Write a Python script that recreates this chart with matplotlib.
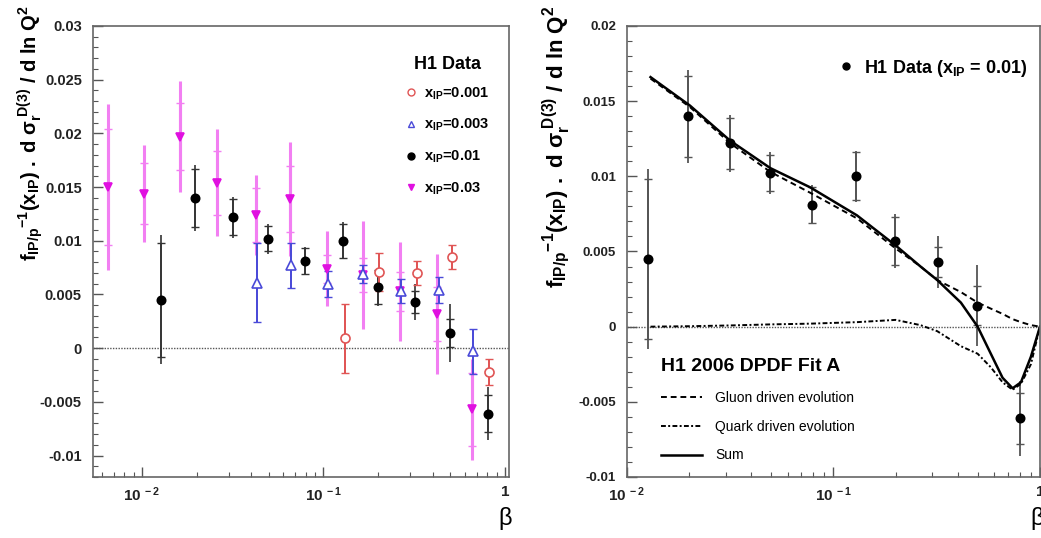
import matplotlib
matplotlib.use("Agg")
import matplotlib.pyplot as plt
from matplotlib.lines import Line2D
from matplotlib.ticker import MultipleLocator, FuncFormatter, LogLocator, NullFormatter, FixedLocator

plt.rcParams['font.family'] = ['Liberation Sans', 'DejaVu Sans']
plt.rcParams['mathtext.fontset'] = 'custom'
plt.rcParams['mathtext.rm'] = 'Liberation Sans'
plt.rcParams['mathtext.it'] = 'Liberation Sans:italic'
plt.rcParams['mathtext.bf'] = 'Liberation Sans:bold'
plt.rcParams['mathtext.default'] = 'bf'

# x_IP = 0.03 (magenta)
beta_03 = [0.0065, 0.0103, 0.0163, 0.026, 0.0425, 0.0653, 0.104, 0.1655, 0.264, 0.424, 0.66]
val_03 = [0.0150, 0.0144, 0.0197, 0.0154, 0.0124, 0.0139, 0.0074, 0.0068, 0.0053, 0.0032, -0.0057]
stat_03 = [0.0054, 0.0028, 0.0031, 0.0030, 0.0025, 0.0031, 0.0013, 0.0016, 0.0018, 0.0025, 0.0034]
tot_03 = [0.0077, 0.0045, 0.0052, 0.0050, 0.0037, 0.0053, 0.0035, 0.0050, 0.0046, 0.0056, 0.0047]

# x_IP = 0.01 (black), also shown on the right
beta_01 = [0.0127, 0.0197, 0.0316, 0.0493, 0.079, 0.1285, 0.199, 0.319, 0.498, 0.804]
val_01 = [0.0045, 0.0140, 0.0122, 0.0102, 0.0081, 0.0100, 0.0057, 0.0043, 0.0014, -0.0061]
stat_01 = [0.0053, 0.0027, 0.0017, 0.0012, 0.0012, 0.0016, 0.0016, 0.0010, 0.0013, 0.0017]
tot_01 = [0.0060, 0.0031, 0.0019, 0.0014, 0.0013, 0.0017, 0.0018, 0.0017, 0.0027, 0.0025]

# x_IP = 0.003 (blue)
beta_003 = [0.0428, 0.0662, 0.1054, 0.1655, 0.267, 0.434, 0.67]
val_003 = [0.0061, 0.0077, 0.0060, 0.0069, 0.0053, 0.0054, -0.0003]
err_003 = [0.0037, 0.0021, 0.0012, 0.0008, 0.0011, 0.0012, 0.0021]

# x_IP = 0.001 (red)
beta_001 = [0.131, 0.203, 0.326, 0.508, 0.82]
val_001 = [0.0009, 0.0071, 0.0070, 0.0085, -0.0022]
err_001 = [0.0032, 0.0018, 0.0011, 0.0011, 0.0012]

# H1 2006 DPDF Fit A curves
beta_fit = [0.013, 0.0202, 0.0316, 0.0494, 0.0773, 0.13, 0.2, 0.264, 0.318, 0.414, 0.499,
            0.578, 0.659, 0.737, 0.809, 0.904, 1.0]
fit_sum = [0.0166, 0.0147, 0.01237, 0.01055, 0.00926, 0.0074, 0.0054, 0.0040, 0.0031, 0.0016, 0.0,
           -0.0018, -0.0034, -0.0041, -0.0037, -0.0020, 0.0]
fit_gluon = [0.0165, 0.0146, 0.0122, 0.0103, 0.0089, 0.0072, 0.0052, 0.0040, 0.0031, 0.0023, 0.0016,
             0.0012, 0.00085, 0.0005, 0.0003, 0.0001, 0.0]
fit_quark = [0.0, 0.00003, 0.00008, 0.00015, 0.0002, 0.0003, 0.00045, 0.0001, -0.0003, -0.0013, -0.0018,
             -0.0027, -0.0037, -0.0042, -0.0038, -0.0025, 0.0]

ylab = r'$f_{IP/p}{}^{-1}(x_{IP})\ .\ d\ σ_r^{\ D(3)}\ /\ d\ ln\ Q^2$'
xticks = [0.01, 0.1, 1]
xticklabels = [r'$10^{\ -2}$', r'$10^{\ -1}$', r'$1$']

fig = plt.figure(figsize=(10.41, 5.38), dpi=100)
ax1 = fig.add_axes([0.0893, 0.1134, 0.3996, 0.8383])
ax2 = fig.add_axes([0.6023, 0.1134, 0.3967, 0.8383])


def style_axes(ax, ylim, xlim, ysize):
    ax.set_xscale('log')
    ax.set_xlim(*xlim)
    ax.set_ylim(*ylim)
    ax.xaxis.set_major_locator(FixedLocator(xticks))
    ax.set_xticklabels(xticklabels)
    ax.xaxis.set_minor_locator(LogLocator(base=10, subs=range(2, 10)))
    ax.xaxis.set_minor_formatter(NullFormatter())
    ax.yaxis.set_major_locator(MultipleLocator(0.005))
    ax.yaxis.set_minor_locator(MultipleLocator(0.001))
    ax.yaxis.set_major_formatter(FuncFormatter(lambda v, p: '%g' % round(v, 4)))
    ax.tick_params(which='both', direction='in', top=False, right=False, colors='#555555',
                   labelcolor='#222222')
    ax.tick_params(axis='y', labelsize=ysize, pad=8)
    ax.tick_params(axis='x', labelsize=11, pad=6)
    ax.tick_params(which='major', length=7, width=1)
    ax.tick_params(which='minor', length=3.5, width=0.8)
    for lab in ax.get_yticklabels():
        lab.set_fontweight('bold')
    for s in ax.spines.values():
        s.set_color('#666666')
        s.set_linewidth(1.2)
    ax.axhline(0, color='#555555', lw=1, ls=(0, (1, 1)), zorder=1)


def draw_points(ax, x, y, stat, tot, color, ecolor, lw, marker, mfc, ms):
    ax.errorbar(x, y, yerr=tot, fmt='none', ecolor=ecolor, elinewidth=lw, capsize=0, zorder=2)
    ax.errorbar(x, y, yerr=stat, fmt='none', ecolor=ecolor, elinewidth=lw, capsize=3,
                capthick=1, zorder=2)
    ax.plot(x, y, ls='none', marker=marker, mfc=mfc, mec=color, ms=ms, mew=1.2, zorder=3)


# left panel
style_axes(ax1, (-0.012, 0.03), (0.00537, 1.052), 10.5)
draw_points(ax1, beta_03, val_03, stat_03, tot_03, '#e010e0', '#f27ff2', 2.2, 'v', '#e010e0', 6)
draw_points(ax1, beta_01, val_01, stat_01, tot_01, 'black', '#333333', 1.2, 'o', 'black', 6)
draw_points(ax1, beta_003, val_003, err_003, err_003, '#4a4ad8', '#4a4ad8', 1.3, '^', 'white', 6.5)
draw_points(ax1, beta_001, val_001, err_001, err_001, '#e05555', '#e05555', 1.3, 'o', 'white', 6.5)

handles = [
    Line2D([], [], ls='none', marker='o', mfc='white', mec='#e05555', ms=5),
    Line2D([], [], ls='none', marker='^', mfc='white', mec='#4a4ad8', ms=5),
    Line2D([], [], ls='none', marker='o', mfc='black', mec='black', ms=5),
    Line2D([], [], ls='none', marker='v', mfc='#e010e0', mec='#e010e0', ms=5),
]
labels = [r'$x_{IP}$=0.001', r'$x_{IP}$=0.003', r'$x_{IP}$=0.01', r'$x_{IP}$=0.03']
leg = ax1.legend(handles, labels, loc='upper left', bbox_to_anchor=(0.733, 0.95), frameon=False,
                 handlelength=0.8, handletextpad=0.5, labelspacing=1.05, borderpad=0,
                 title='H1 Data', prop={'size': 10.5, 'weight': 'bold'},
                 title_fontproperties={'size': 13, 'weight': 'bold'})
leg._legend_box.sep = 9

# right panel
style_axes(ax2, (-0.01, 0.02), (0.01, 1.0), 9.5)
draw_points(ax2, beta_01, val_01, stat_01, tot_01, 'black', '#555555', 1.3, 'o', 'black', 6)
l_g, = ax2.plot(beta_fit, fit_gluon, color='black', lw=1.4, ls=(0, (3, 2)), zorder=2)
l_q, = ax2.plot(beta_fit, fit_quark, color='black', lw=1.4, ls=(0, (2.5, 1.2, 1, 1.2)), zorder=2)
l_s, = ax2.plot(beta_fit, fit_sum, color='black', lw=1.8, zorder=2)

leg_d = ax2.legend([Line2D([], [], ls='none', marker='o', color='black', ms=5)],
                   [r'H1 Data ($x_{IP}$ = 0.01)'], loc='upper left', bbox_to_anchor=(0.49, 0.95),
                   frameon=False, handlelength=0.8, handletextpad=0.6, borderpad=0,
                   prop={'size': 13, 'weight': 'bold'})
ax2.add_artist(leg_d)
leg_f = ax2.legend([l_g, l_q, l_s], ['Gluon driven evolution', 'Quark driven evolution', 'Sum'],
                   loc='upper left', bbox_to_anchor=(0.065, 0.28), frameon=False,
                   handlelength=3.0, handletextpad=0.9, labelspacing=1.05, borderpad=0,
                   title='H1 2006 DPDF Fit A', alignment='left', prop={'size': 10},
                   title_fontproperties={'size': 14, 'weight': 'bold'})
leg_f._legend_box.sep = 12

fig.text(0.030, 0.99, ylab, rotation=90, ha='center', va='top', fontsize=14.5)
fig.text(0.535, 0.99, ylab, rotation=90, ha='center', va='top', fontsize=16)
fig.text(505 / 1041, 1 - 518 / 538, 'β', ha='center', va='center', fontsize=17)
fig.text(1037 / 1041, 1 - 518 / 538, 'β', ha='center', va='center', fontsize=17)

fig.savefig('out.png', dpi=100)
